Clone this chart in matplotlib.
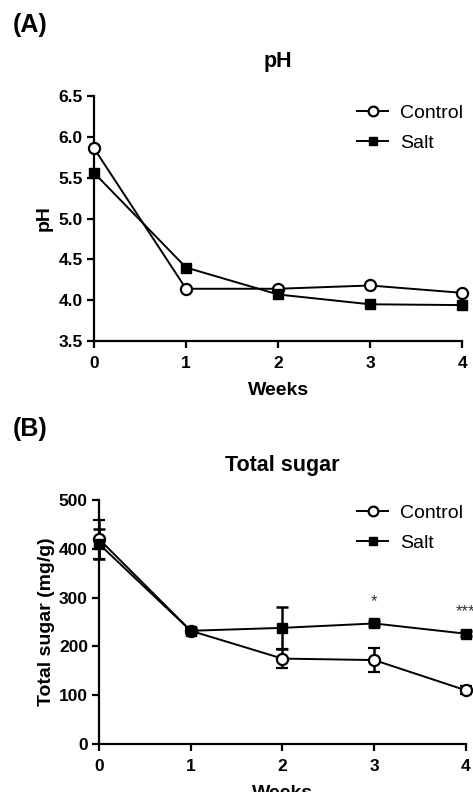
import numpy as np
import matplotlib.pyplot as plt
from matplotlib.lines import Line2D

plt.rcParams['font.family'] = ['Liberation Sans', 'DejaVu Sans']

# data
weeks = [0, 1, 2, 3, 4]

ph_control = [5.86, 4.14, 4.14, 4.18, 4.09]
ph_salt = [5.56, 4.40, 4.07, 3.95, 3.94]

sugar_control = [420, 232, 175, 172, 110]
sugar_control_err = [40, 5, 20, 25, 8]
sugar_salt = [410, 232, 238, 247, 226]
sugar_salt_err = [30, 5, 43, 5, 5]

ph_ticks = [3.5, 4.0, 4.5, 5.0, 5.5, 6.0, 6.5]
sugar_ticks = [0, 100, 200, 300, 400, 500]
stars = {3: "*", 4: "***"}


def style_axes(ax):
    # prism-like look: left and bottom spines only, outward ticks
    for s in ['top', 'right']:
        ax.spines[s].set_visible(False)
    for s in ['left', 'bottom']:
        ax.spines[s].set_linewidth(1.6)
    ax.tick_params(width=1.6, length=5, labelsize=12.5, pad=3)
    ax.tick_params(axis='x', pad=6)
    for lab in ax.get_xticklabels() + ax.get_yticklabels():
        lab.set_fontweight('bold')
    ax.set_xlim(0, 4)
    ax.set_xticks(weeks)
    ax.set_xlabel("Weeks", fontsize=14, fontweight='bold', labelpad=8)


def add_legend(ax, y):
    # legend handles: plain line + marker, no error bars
    h = [Line2D([], [], color='black', marker='o', mfc='white', mec='black',
                mew=1.6, ms=7, lw=1.4),
         Line2D([], [], color='black', marker='s', ms=6, lw=1.4)]
    ax.legend(h, ['Control', 'Salt'], loc='upper left',
              bbox_to_anchor=(0.755, y), bbox_transform=fig.transFigure,
              frameon=False, fontsize=14, handlelength=1.6,
              handletextpad=0.6, labelspacing=0.62, borderaxespad=0,
              borderpad=0)


fig = plt.figure(figsize=(4.73, 7.92), dpi=100)

# (A) pH
axA = fig.add_axes([0.1987, 0.5694, 0.7783, 0.3094])
axA.plot(weeks, ph_control, '-o', color='black', mfc='white', mec='black',
         mew=1.6, ms=8, lw=1.4, clip_on=False, zorder=3)
axA.plot(weeks, ph_salt, '-s', color='black', ms=7, lw=1.4,
         clip_on=False, zorder=3)
axA.set_ylim(3.5, 6.5)
axA.set_yticks(ph_ticks)
axA.set_yticklabels([f"{t:.1f}" for t in ph_ticks])
axA.set_ylabel("pH", fontsize=14, fontweight='bold', labelpad=4)
axA.set_title("pH", fontsize=15.5, fontweight='bold', pad=21)
style_axes(axA)
add_legend(axA, 0.868)
fig.text(0.027, 0.983, "(A)", fontsize=18, fontweight='bold', va='top')

# (B) total sugar
axB = fig.add_axes([0.2093, 0.0606, 0.7757, 0.3081])
axB.errorbar(weeks, sugar_control, yerr=sugar_control_err, fmt='-o',
             color='black', mfc='white', mec='black', mew=1.6, ms=8, lw=1.4,
             elinewidth=1.8, capsize=4, capthick=1.8,
             clip_on=False, zorder=3)
axB.errorbar(weeks, sugar_salt, yerr=sugar_salt_err, fmt='-s', color='black',
             ms=7, lw=1.4, elinewidth=1.8, capsize=4, capthick=1.8,
             clip_on=False, zorder=3)
axB.set_ylim(0, 500)
axB.set_yticks(sugar_ticks)
axB.set_ylabel("Total sugar (mg/g)", fontsize=14, fontweight='bold', labelpad=3)
axB.set_title("Total sugar", fontsize=15.5, fontweight='bold', pad=21)
style_axes(axB)
for w, s in stars.items():
    axB.text(w, sugar_salt[w] + 30, s, ha='center', va='bottom', fontsize=12,
             color='#333333', clip_on=False)
add_legend(axB, 0.363)
fig.text(0.027, 0.473, "(B)", fontsize=18, fontweight='bold', va='top')

fig.savefig("out.png", dpi=100)
